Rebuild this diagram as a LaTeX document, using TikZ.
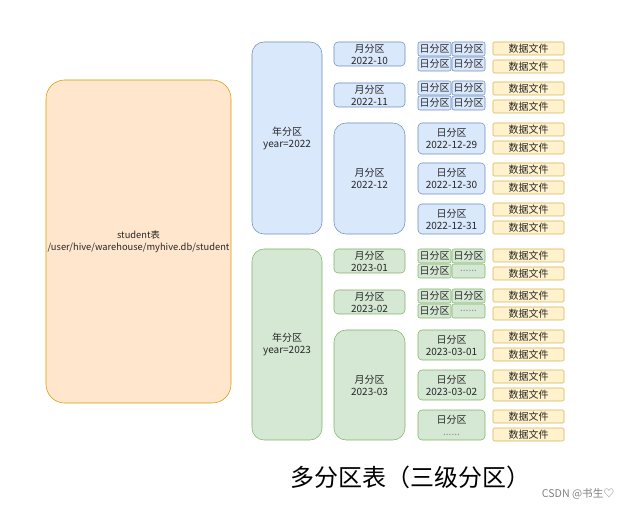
\documentclass[tikz,border=0pt]{standalone}
\usepackage{fontspec}
\setmainfont{Noto Sans CJK SC}
\usepackage{tikz}
\usetikzlibrary{positioning}
\definecolor{orangefill}{HTML}{FFE6CC}
\definecolor{orangeline}{HTML}{D79B00}
\definecolor{bluefill}{HTML}{DAE8FC}
\definecolor{blueline}{HTML}{6C8EBF}
\definecolor{greenfill}{HTML}{D5E8D4}
\definecolor{greenline}{HTML}{82B366}
\definecolor{filefill}{HTML}{FFF2CC}
\definecolor{fileline}{HTML}{D6B656}
\tikzset{
  part/.style={draw, rounded corners=3pt, align=center, inner sep=0pt,
    font=\fontsize{7.5}{9}\selectfont, text=black!85},
  blue/.style={part, fill=bluefill, draw=blueline},
  green/.style={part, fill=greenfill, draw=greenline},
  daybox/.style={rounded corners=1.5pt},
  datafile/.style={part, rounded corners=1pt, fill=filefill, draw=fileline},
}
% box from corners (x1,y1) to (x2,y2)
\newcommand{\pbox}[7]{%
  \node[#2, minimum width={((#5)-(#3))*0.75pt}, minimum height={((#6)-(#4))*0.75pt}]
    (#1) at ({((#3)+(#5))/2},{((#4)+(#6))/2}) {#7};}
\begin{document}
\begin{tikzpicture}[x=0.75pt,y=0.75pt,yscale=-1,xscale=1]
\useasboundingbox (0,0) rectangle (642,509);

%student table
\pbox{student}{part, rounded corners=14pt, fill=orangefill, draw=orangeline, font=\fontsize{7}{9}\selectfont}{46}{80}{231}{403}{student表\\/user/hive/warehouse/myhive.db/student}

%year partitions
\pbox{y2022}{blue, rounded corners=9pt}{252}{42}{322}{234}{年分区\\year=2022}
\pbox{y2023}{green, rounded corners=9pt}{252}{249}{322}{440}{年分区\\year=2023}

%month partitions
\pbox{m202210}{blue}{334}{42}{405}{66}{月分区\\2022-10}
\pbox{m202211}{blue}{334}{83}{405}{107}{月分区\\2022-11}
\pbox{m202212}{blue, rounded corners=9pt}{334}{123}{405}{234}{月分区\\2022-12}
\pbox{m202301}{green}{334}{249}{405}{273}{月分区\\2023-01}
\pbox{m202302}{green}{334}{290}{405}{314}{月分区\\2023-02}
\pbox{m202303}{green, rounded corners=9pt}{334}{330}{405}{440}{月分区\\2023-03}

%small day partitions
\foreach \g/\y in {a/42, b/81} {
  \pbox{d\g1}{blue, daybox}{418}{\y}{451}{\y+14}{日分区}
  \pbox{d\g2}{blue, daybox}{452}{\y}{485}{\y+14}{日分区}
  \pbox{d\g3}{blue, daybox}{418}{\y+15}{451}{\y+29}{日分区}
  \pbox{d\g4}{blue, daybox}{452}{\y+15}{485}{\y+29}{日分区}
}
\foreach \g/\y in {c/249, d/289} {
  \pbox{d\g1}{green, daybox}{418}{\y}{451}{\y+14}{日分区}
  \pbox{d\g2}{green, daybox}{452}{\y}{485}{\y+14}{日分区}
  \pbox{d\g3}{green, daybox}{418}{\y+15}{451}{\y+29}{日分区}
  \pbox{d\g4}{green, daybox, text=black!45}{452}{\y+15}{485}{\y+29}{......}
}

%big day partitions
\pbox{d20221229}{blue}{418}{123}{485}{154}{日分区\\2022-12-29}
\pbox{d20221230}{blue}{418}{163}{485}{194}{日分区\\2022-12-30}
\pbox{d20221231}{blue}{418}{204}{485}{234}{日分区\\2022-12-31}
\pbox{d20230301}{green}{418}{330}{485}{360}{日分区\\2023-03-01}
\pbox{d20230302}{green}{418}{370}{485}{400}{日分区\\2023-03-02}
\pbox{d2023more}{green}{418}{410}{485}{440}{日分区\\{\color{black!45}......}}

%data files
\foreach \y [count=\i] in {42,60,82,100,123,141,163,181,203,221,249,267,289,307,330,348,370,388,410,428} {
  \pbox{file\i}{datafile}{493}{\y}{564}{\y+13}{数据文件}
}

%title
\node[font=\fontsize{18}{20}\selectfont] (title) at (410,477) {多分区表（三级分区）};
\node[font=\fontsize{8}{9}\selectfont, text=black!50] (mark) at (578,494) {CSDN @书生♡};
\end{tikzpicture}
\end{document}
